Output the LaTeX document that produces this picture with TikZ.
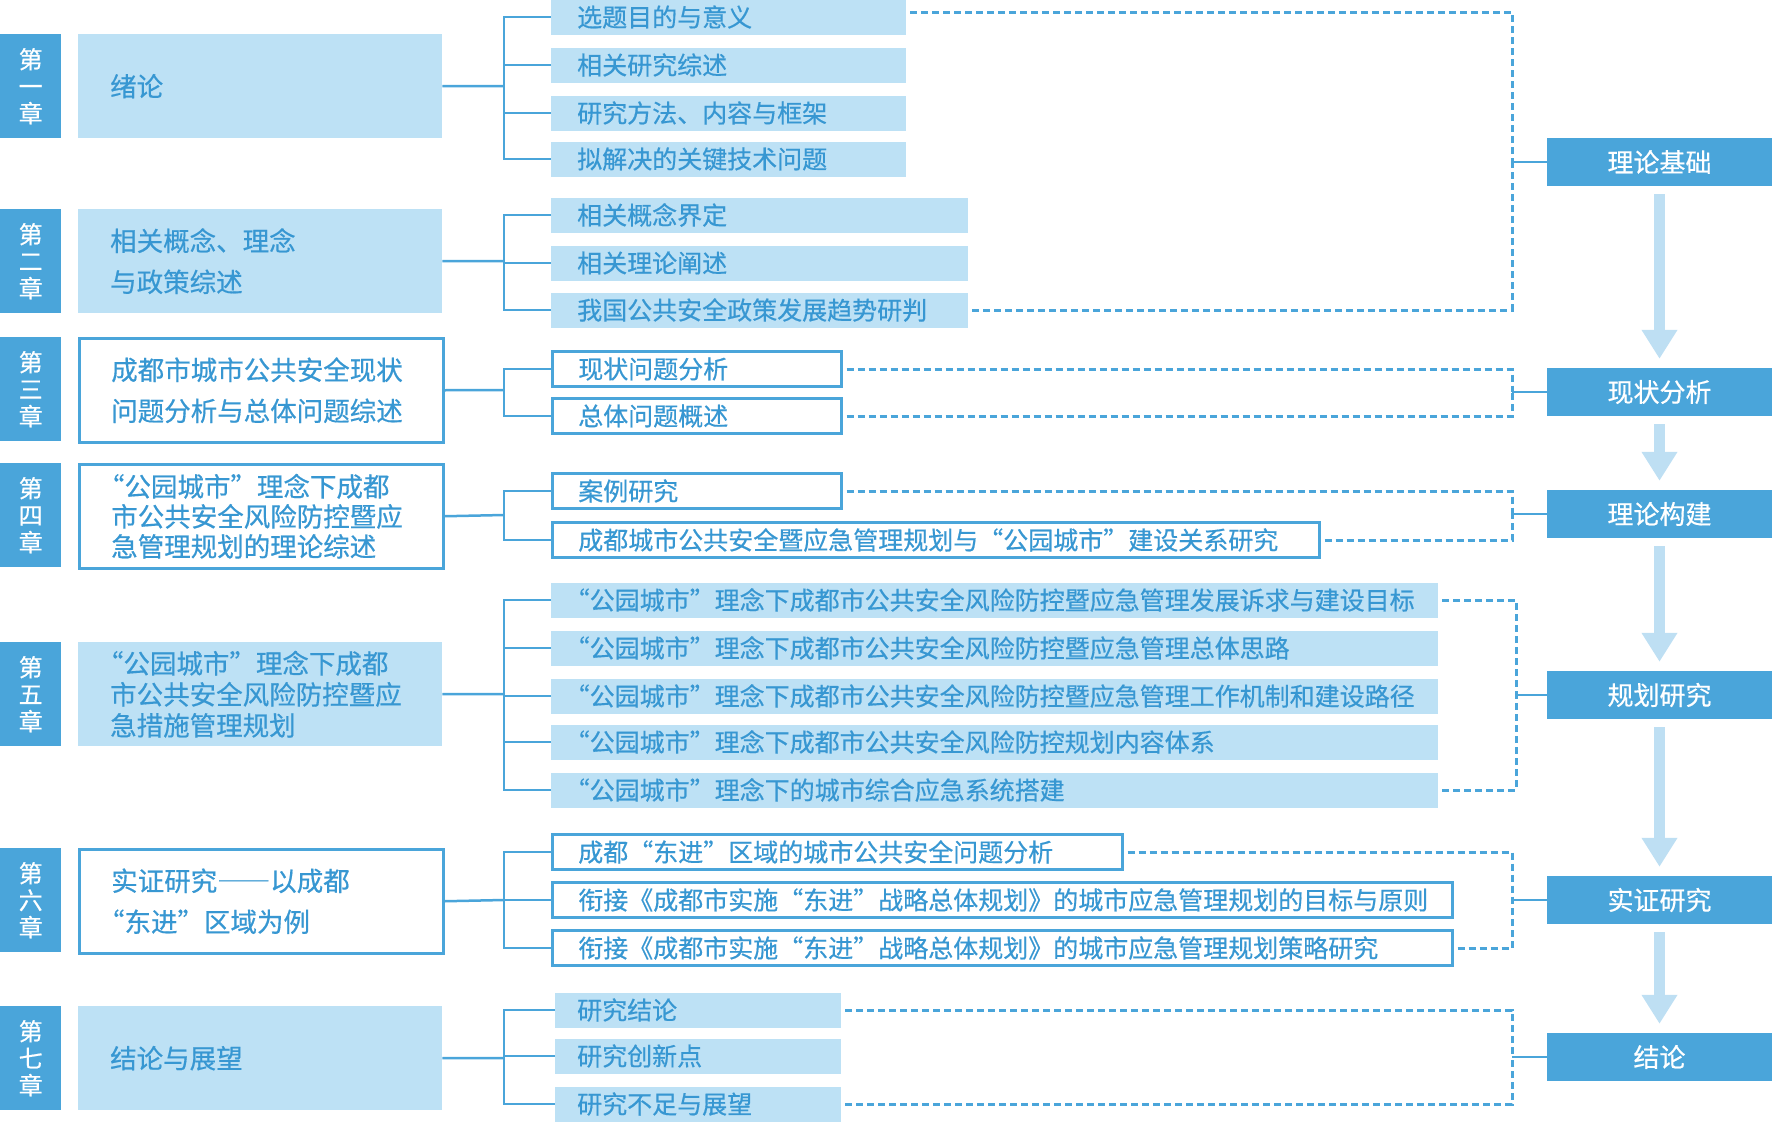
\documentclass[tikz,border=0pt]{standalone}
\usepackage{fontspec}
\setmainfont{Noto Sans CJK SC}[RawFeature=+fwid, FakeBold=0.5]
\newcommand\openq{\leavevmode\kern-0.5em“}
\usepackage{tikz}
\usetikzlibrary{arrows.meta, calc}
\definecolor{deepBlue}{HTML}{4AA5DA}
\definecolor{paleBlue}{HTML}{BDE1F5}
\definecolor{inkBlue}{HTML}{3797D2}
\definecolor{arrowBlue}{HTML}{BEDFF3}

\begin{document}
\begin{tikzpicture}[x=1pt, y=-1pt,
    chap/.style={fill=deepBlue, text=white, anchor=north west, minimum width=61pt, minimum height=104pt,
      inner sep=0pt, align=center, font=\fontsize{24pt}{27pt}\selectfont},
    mainF/.style={fill=paleBlue, anchor=north west, minimum height=104pt, text width=300pt, inner xsep=32pt,
      inner ysep=0pt, align=left, text=inkBlue, font=\fontsize{26.5pt}{41pt}\selectfont},
    mainB/.style={mainF, fill=white, draw=deepBlue, line width=2.5pt},
    subF/.style={fill=paleBlue, anchor=west, minimum height=35pt, inner xsep=26pt, inner ysep=0pt,
      align=left, text=inkBlue, font=\fontsize{25pt}{30pt}\selectfont},
    subB/.style={subF, fill=white, draw=deepBlue, line width=2.5pt},
    rbox/.style={fill=deepBlue, text=white, minimum width=225pt, minimum height=48pt, inner sep=0pt,
      font=\fontsize{26pt}{30pt}\selectfont},
    conn/.style={draw=deepBlue, line width=2.5pt},
    dotlink/.style={draw=deepBlue, line width=3pt, dash pattern=on 7pt off 4pt, shorten <=4pt},
    bigarrow/.style={draw=arrowBlue, line width=11pt, -{Triangle[width=34pt, length=29pt]},
      shorten <=8pt, shorten >=9pt}]
  \useasboundingbox (0,0) rectangle (1773,1122);

  % ── chapter tags
  \foreach \n/\top/\num in {1/34/一, 2/209/二, 3/337/三, 4/463/四, 5/642/五, 6/848/六, 7/1006/七}
    \node[chap] (c\n) at (0,\top) {第\\\num\\章};

  % ── chapter boxes
  \node[mainF] (m1) at (78,34) {绪论};
  \node[mainF] (m2) at (78,209) {相关概念、理念\\与政策综述};
  \node[mainB] (m3) at (78,337) {成都市城市公共安全现状\\问题分析与总体问题综述};
  \node[mainB, font=\fontsize{26.5pt}{30pt}\selectfont] (m4) at (78,463)
    {\openq 公园城市”理念下成都\\市公共安全风险防控暨应\\急管理规划的理论综述};
  \node[mainF, font=\fontsize{26.5pt}{31pt}\selectfont] (m5) at (78,642)
    {\openq 公园城市”理念下成都\\市公共安全风险防控暨应\\急措施管理规划};
  \node[mainB] (m6) at (78,848) {实证研究——以成都\\\openq 东进”区域为例};
  \node[mainF] (m7) at (78,1006) {结论与展望};

  % ── sections
  \foreach \k/\cy/\lbl in {1/17/选题目的与意义, 2/65/相关研究综述, 3/113/研究方法、内容与框架, 4/159/拟解决的关键技术问题}
    \node[subF, text width=303pt] (s1\k) at (551,\cy) {\lbl};
  \foreach \k/\cy/\lbl in {1/215/相关概念界定, 2/263/相关理论阐述, 3/310/我国公共安全政策发展趋势研判}
    \node[subF, text width=365pt] (s2\k) at (551,\cy) {\lbl};
  \foreach \k/\cy/\lbl in {1/369/现状问题分析, 2/416/总体问题概述}
    \node[subB, text width=237pt] (s3\k) at (551,\cy) {\lbl};
  \node[subB, text width=237pt] (s41) at (551,491) {案例研究};
  \node[subB, text width=715pt] (s42) at (551,540) {成都城市公共安全暨应急管理规划与“公园城市”建设关系研究};
  \foreach \k/\cy/\lbl in {1/600/\openq 公园城市”理念下成都市公共安全风险防控暨应急管理发展诉求与建设目标,
      2/648/\openq 公园城市”理念下成都市公共安全风险防控暨应急管理总体思路,
      3/696/\openq 公园城市”理念下成都市公共安全风险防控暨应急管理工作机制和建设路径,
      4/742/\openq 公园城市”理念下成都市公共安全风险防控规划内容体系,
      5/790/\openq 公园城市”理念下的城市综合应急系统搭建}
    \node[subF, text width=835pt] (s5\k) at (551,\cy) {\lbl};
  \node[subB, text width=518pt] (s61) at (551,852) {成都“东进”区域的城市公共安全问题分析};
  \node[subB, text width=848pt] (s62) at (551,900) {衔接《成都市实施“东进”战略总体规划》的城市应急管理规划的目标与原则};
  \node[subB, text width=848pt] (s63) at (551,948) {衔接《成都市实施“东进”战略总体规划》的城市应急管理规划策略研究};
  \foreach \k/\cy/\lbl in {1/1010/研究结论, 2/1056/研究创新点, 3/1104/研究不足与展望}
    \node[subF, inner xsep=22pt, text width=242pt] (s7\k) at (555,\cy) {\lbl};

  % ── tree connectors
  \coordinate (t1) at (504,86);
  \coordinate (t2) at (504,261);
  \coordinate (t3) at (504,390);
  \coordinate (t4) at (504,515);
  \coordinate (t5) at (504,694);
  \coordinate (t6) at (504,900);
  \coordinate (t7) at (504,1058);
  \foreach \n in {1,...,7}
    \draw[conn] (m\n.east) -- (t\n);
  \foreach \k in {1,...,4} \draw[conn] (s1\k.west) -| (t1);
  \foreach \k in {1,2,3} \draw[conn] (s2\k.west) -| (t2);
  \foreach \k in {1,2} \draw[conn] (s3\k.west) -| (t3);
  \foreach \k in {1,2} \draw[conn] (s4\k.west) -| (t4);
  \foreach \k in {1,...,5} \draw[conn] (s5\k.west) -| (t5);
  \foreach \k in {1,2,3} \draw[conn] (s6\k.west) -| (t6);
  \foreach \k in {1,2,3} \draw[conn] (s7\k.west) -| (t7);

  % ── research stages
  \node[rbox] (r1) at (1659.5,162) {理论基础};
  \node[rbox] (r2) at (1659.5,392) {现状分析};
  \node[rbox] (r3) at (1659.5,514) {理论构建};
  \node[rbox] (r4) at (1659.5,695) {规划研究};
  \node[rbox] (r5) at (1659.5,900) {实证研究};
  \node[rbox] (r6) at (1659.5,1057) {结论};
  \foreach \a/\b in {1/2, 2/3, 3/4, 4/5, 5/6}
    \draw[bigarrow] (r\a.south) -- (r\b.north);

  % ── dashed brackets
  \coordinate (j1) at (1512,162);
  \coordinate (j2) at (1512,392);
  \coordinate (j3) at (1512,514);
  \coordinate (j4) at (1516,695);
  \coordinate (j5) at (1512,900);
  \coordinate (j6) at (1512,1057);
  \draw[dotlink] ([yshift=5pt]s11.east) -| (j1);
  \draw[dotlink] (s23.east) -| (j1);
  \draw[dotlink] (s31.east) -| (j2);
  \draw[dotlink] (s32.east) -| (j2);
  \draw[dotlink] (s41.east) -| (j3);
  \draw[dotlink] (s42.east) -| (j3);
  \draw[dotlink] (s51.east) -| (j4);
  \draw[dotlink] (s55.east) -| (j4);
  \draw[dotlink] (s61.east) -| (j5);
  \draw[dotlink] (s63.east) -| (j5);
  \draw[dotlink] (s71.east) -| (j6);
  \draw[dotlink] (s73.east) -| (j6);
  \foreach \n in {1,...,6}
    \draw[conn] (j\n) -- (r\n.west);
\end{tikzpicture}
\end{document}
